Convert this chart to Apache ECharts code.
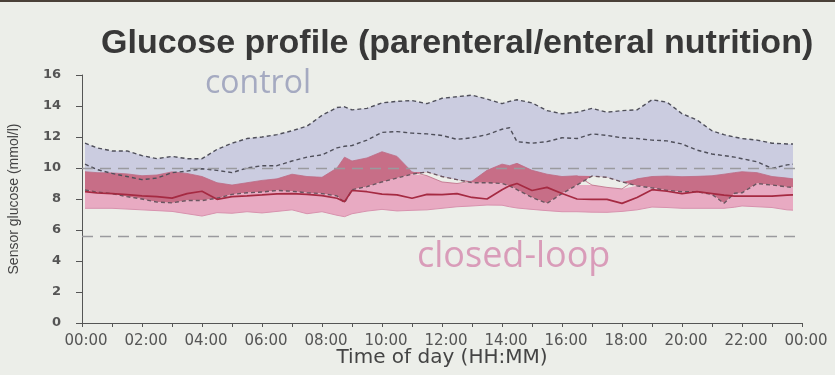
<!DOCTYPE html>
<html><head><meta charset="utf-8">
<script src="https://cdn.jsdelivr.net/npm/echarts@6/dist/echarts.min.js"></script>
<style>html,body{margin:0;padding:0;background:#eceee9}#c{width:835px;height:375px}</style>
</head><body><div id="c"></div>
<script>
// time of day in hours
const hours = [0.1,0.5,1,1.5,2,2.5,3,3.5,4,4.5,5,5.5,6,6.5,7,7.5,8,8.5,8.75,9,9.5,10,10.5,11,11.5,12,12.5,13,13.5,14,14.25,14.5,15,15.5,16,16.5,17,17.5,18,18.5,19,19.5,20,20.5,21,21.4,21.75,22,22.5,23,23.5,23.7];
// control: upper quartile, median, lower quartile (mmol/l)
const ctrlUpper = [11.6,11.3,11.1,11.1,10.8,10.6,10.75,10.6,10.6,11.2,11.6,11.9,12.0,12.15,12.4,12.7,13.4,13.9,13.95,13.75,13.85,14.2,14.3,14.35,14.15,14.5,14.6,14.7,14.45,14.15,14.3,14.4,14.2,13.7,13.5,13.6,13.85,13.6,13.7,13.75,14.4,14.25,13.5,13.1,12.4,12.15,12.0,11.9,11.8,11.6,11.55,11.55];
const ctrlMedian = [10.25,9.9,9.65,9.45,9.25,9.35,9.7,9.8,9.95,9.85,9.7,10.0,10.15,10.15,10.45,10.7,10.85,11.3,11.4,11.45,11.8,12.3,12.35,12.25,12.2,12.1,11.85,11.95,12.15,12.5,12.6,11.7,11.6,11.7,11.95,11.9,12.2,12.1,11.95,11.9,11.8,11.75,11.55,11.15,10.9,10.8,10.7,10.6,10.4,9.98,10.2,10.25];
const ctrlLower = [8.58,8.45,8.35,8.15,8.0,7.8,7.75,7.9,7.9,8.05,8.3,8.4,8.45,8.55,8.5,8.4,8.35,8.2,7.75,8.6,8.8,9.1,9.35,9.6,9.75,9.45,9.25,9.05,9.05,9.0,8.85,8.6,8.1,7.72,8.35,8.9,9.48,9.4,9.1,8.85,8.72,8.55,8.47,8.47,8.3,7.72,8.37,8.4,9.0,8.9,8.78,8.75];
// closed-loop: upper quartile, median, lower quartile (mmol/l)
const clUpper = [9.76,9.7,9.68,9.62,9.5,9.55,9.75,9.65,9.45,9.05,8.9,9.05,9.2,9.3,9.6,9.45,9.4,10.0,10.7,10.45,10.65,11.05,10.75,9.75,9.5,9.1,9.0,9.15,9.85,10.25,10.15,10.3,9.85,9.6,9.45,9.5,8.9,8.75,8.65,9.3,9.45,9.48,9.44,9.46,9.5,9.6,9.7,9.76,9.7,9.45,9.35,9.3];
const clMedian = [8.47,8.4,8.35,8.28,8.2,8.15,8.06,8.35,8.5,7.98,8.15,8.2,8.26,8.33,8.35,8.3,8.22,8.05,7.83,8.55,8.47,8.32,8.27,8.05,8.3,8.28,8.35,8.1,8.0,8.6,8.85,9.0,8.55,8.75,8.35,8.0,7.98,7.98,7.72,8.1,8.6,8.5,8.35,8.47,8.35,8.25,8.19,8.19,8.19,8.19,8.25,8.26];
const clLower = [7.4,7.4,7.4,7.35,7.3,7.25,7.2,7.05,6.9,7.12,7.08,7.18,7.1,7.2,7.3,7.05,7.18,6.95,6.86,7.05,7.22,7.33,7.23,7.27,7.3,7.4,7.5,7.55,7.61,7.6,7.5,7.42,7.33,7.25,7.18,7.18,7.15,7.14,7.2,7.3,7.48,7.45,7.4,7.4,7.4,7.4,7.47,7.55,7.5,7.45,7.3,7.28];
// reference glucose levels
const refLines = [10, 5.6];
const titleText = 'Glucose profile (parenteral/enteral nutrition)';

const BG = '#eceee9', LAV = '#cbcce0', PINK = '#e8aac2', CRIM = '#c76e87';
const pts = a => hours.map((h, i) => [h, a[i]]);
// overlap of the two inter-quartile bands
const ovTop = clUpper.map((v, i) => Math.max(v, ctrlLower[i]));
const pinkTop = clUpper.map((v, i) => Math.min(v, ctrlLower[i]));
const hh = v => String(v % 24).padStart(2, '0') + ':00';

const base = {type: 'line', symbol: 'none', silent: true, smooth: false};
const fill = (arr, color, z) => Object.assign({}, base, {data: pts(arr), z: z,
  lineStyle: {opacity: 0, width: 0}, areaStyle: {color: color, opacity: 1, origin: 'start'}});
const dash = {color: '#4f4f5a', width: 1.4, type: [4, 3]};

const chart = echarts.init(document.getElementById('c'), null, {renderer: 'canvas'});
chart.setOption({
  animation: false,
  backgroundColor: BG,
  title: {text: titleText, left: 96, top: 22,
    textStyle: {fontSize: 34, fontWeight: 'bold', color: '#383838', fontFamily: 'Liberation Sans'}},
  grid: {left: 82, right: 33, top: 75, bottom: 52, containLabel: false, outerBoundsMode: 'none'},
  xAxis: {type: 'value', min: 0, max: 24, interval: 1, offset: 2,
    axisLine: {show: true, lineStyle: {color: '#555', width: 1}},
    axisTick: {show: true, length: 4, lineStyle: {color: '#555'}},
    splitLine: {show: false},
    axisLabel: {formatter: v => (v % 2 === 0 ? hh(v) : ''), color: '#555', fontSize: 15,
      fontFamily: 'DejaVu Sans', margin: 9, padding: [0, 0, 0, 8]},
    name: 'Time of day (HH:MM)', nameLocation: 'middle', nameGap: 23, nameMoveOverlap: false,
    nameTextStyle: {fontSize: 20, color: '#444', fontFamily: 'DejaVu Sans'}},
  yAxis: {type: 'value', min: 0, max: 16, interval: 2, offset: 9,
    axisLine: {show: true, lineStyle: {color: '#555', width: 1}},
    axisTick: {show: true, length: 6, lineStyle: {color: '#555'}},
    splitLine: {show: false},
    axisLabel: {color: '#555', fontSize: 13, fontWeight: 'bold', fontFamily: 'DejaVu Sans', margin: 12},
    name: 'Sensor glucose (mmol/l)', nameLocation: 'middle', nameGap: 52, nameRotate: 90,
    nameTextStyle: {fontSize: 14, color: '#444', fontFamily: 'Liberation Sans'}},
  graphic: [
    {type: 'rect', z: 100, shape: {x: 0, y: 0, width: 835, height: 2}, style: {fill: '#4a4038'}, silent: true},
    {type: 'text', z: 100, left: 205, top: 68, style: {text: 'control', fontSize: 32, fontFamily: 'Open Sans', fill: '#a5aac1'}, silent: true},
    {type: 'text', z: 100, left: 417, top: 239, style: {text: 'closed-loop', fontSize: 36, fontFamily: 'Open Sans', fill: '#d99cb9'}, silent: true}
  ],
  series: [
    fill(ctrlUpper, LAV, 1),
    fill(ovTop, CRIM, 2),
    fill(ctrlLower, BG, 3),
    fill(pinkTop, PINK, 4),
    fill(clLower, BG, 5),
    Object.assign({}, base, {data: pts(clUpper), z: 6, lineStyle: {color: '#bd6a84', width: 1, opacity: 0.8}}),
    Object.assign({}, base, {data: pts(clLower), z: 6, lineStyle: {color: '#d892ae', width: 1}}),
    Object.assign({}, base, {data: pts(ctrlUpper), z: 7, lineStyle: dash}),
    Object.assign({}, base, {data: pts(ctrlMedian), z: 7, lineStyle: dash}),
    Object.assign({}, base, {data: pts(ctrlLower), z: 7, lineStyle: Object.assign({}, dash, {color: '#6a5560'})}),
    Object.assign({}, base, {data: pts(clMedian), z: 8, lineStyle: {color: '#a52a42', width: 1.7},
      markLine: {z: 9, silent: true, symbol: 'none', label: {show: false},
        lineStyle: {color: '#9a9a9e', width: 1.3, type: [11, 7]},
        data: refLines.map(v => ({yAxis: v}))}})
  ]
});
</script>
</body></html>
